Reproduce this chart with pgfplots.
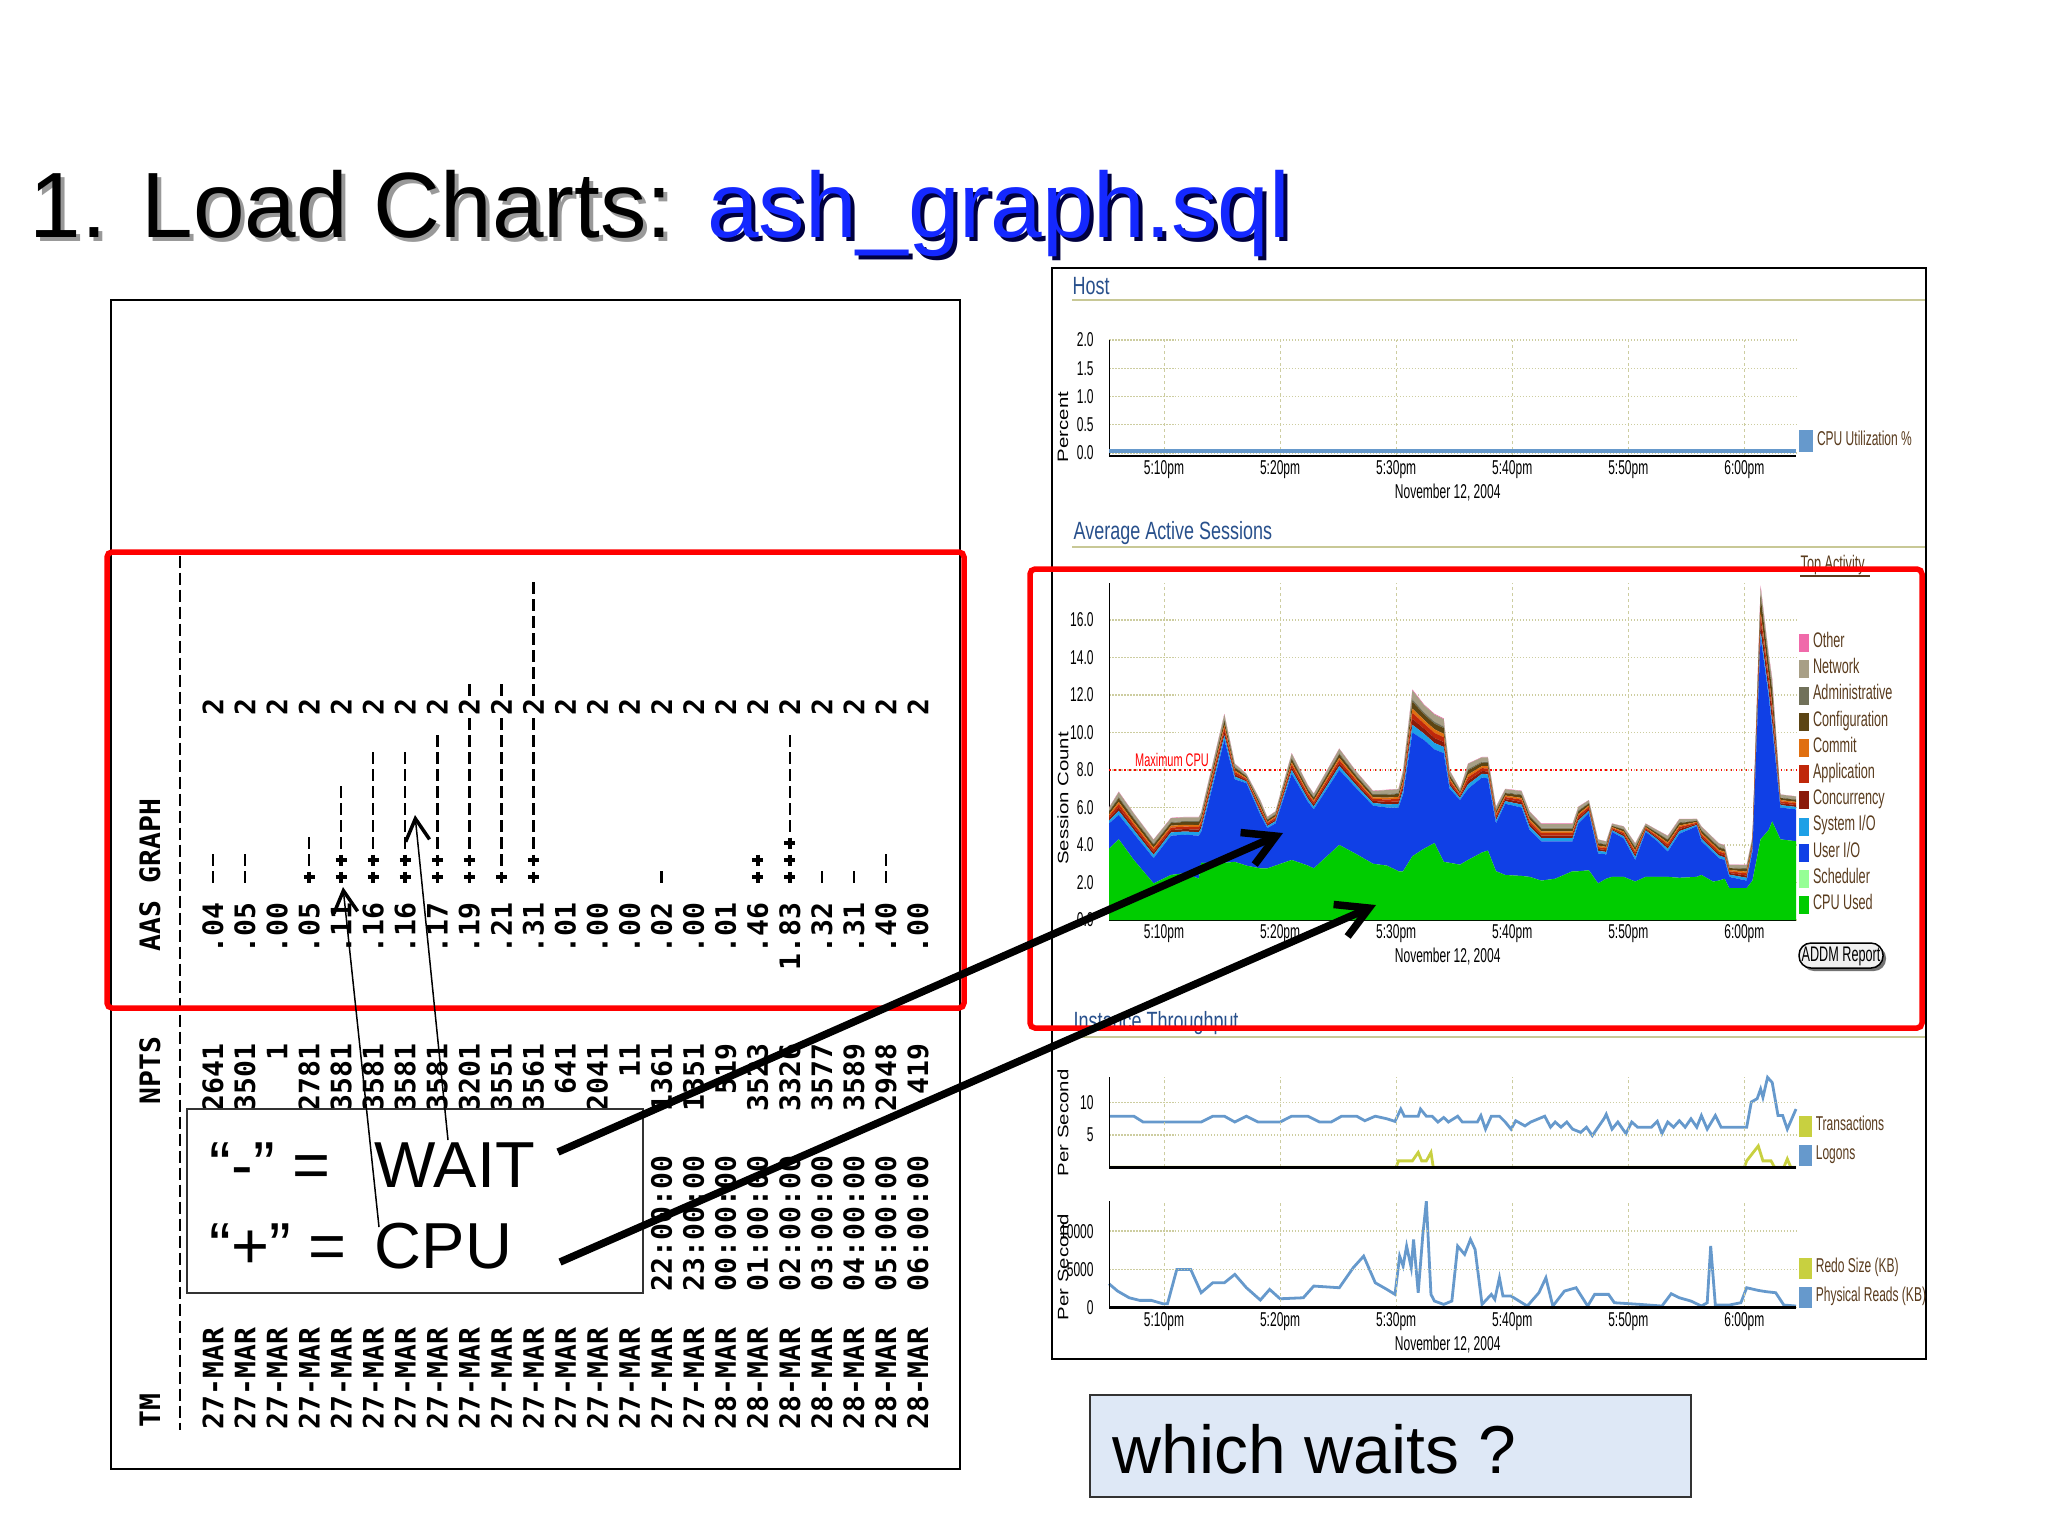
\documentclass[border=0pt]{standalone}
\usepackage{pgfplots}
\pgfplotsset{compat=1.18}
\usepackage{pgfplotstable}
\usepackage{fontspec}
\usetikzlibrary{arrows.meta}
\setmainfont{Liberation Sans}
\newfontfamily\monofont{DejaVu Sans Mono Bold}
\newfontfamily\narrowfont[FakeStretch=0.6]{Liberation Sans}
\newfontfamily\headfont[FakeStretch=0.72]{Liberation Sans}
\newfontfamily\widefont[FakeStretch=1.35]{Liberation Sans}

\definecolor{oemblue}{RGB}{40,80,140}
\definecolor{oembrown}{RGB}{90,60,30}
\definecolor{gridc}{RGB}{205,205,160}
\definecolor{headline}{RGB}{200,200,150}
\definecolor{cpuused}{RGB}{0,204,0}
\definecolor{sched}{RGB}{150,255,150}
\definecolor{userio}{RGB}{16,64,230}
\definecolor{sysio}{RGB}{30,160,230}
\definecolor{concur}{RGB}{139,26,10}
\definecolor{applic}{RGB}{192,40,10}
\definecolor{commitc}{RGB}{224,111,16}
\definecolor{config}{RGB}{92,69,20}
\definecolor{admin}{RGB}{113,113,90}
\definecolor{network}{RGB}{168,159,134}
\definecolor{other}{RGB}{240,106,170}
\definecolor{logons}{RGB}{102,153,204}
\definecolor{trans}{RGB}{200,208,64}
\definecolor{titleblue}{RGB}{20,40,255}
\definecolor{boxblue}{RGB}{222,232,246}

% ash_graph.sql output, one row per hour
\pgfplotstableread{
i aas npts tm time
1 .04 2641 27-MAR 08:00:00
2 .05 3501 27-MAR 09:00:00
3 .00 1 27-MAR 10:00:00
4 .05 2781 27-MAR 11:00:00
5 .11 3581 27-MAR 12:00:00
6 .16 3581 27-MAR 13:00:00
7 .16 3581 27-MAR 14:00:00
8 .17 3581 27-MAR 15:00:00
9 .19 3201 27-MAR 16:00:00
10 .21 3551 27-MAR 17:00:00
11 .31 3561 27-MAR 18:00:00
12 .01 641 27-MAR 19:00:00
13 .00 2041 27-MAR 20:00:00
14 .00 11 27-MAR 21:00:00
15 .02 1361 27-MAR 22:00:00
16 .00 1351 27-MAR 23:00:00
17 .01 519 28-MAR 00:00:00
18 .46 3523 28-MAR 01:00:00
19 1.83 3326 28-MAR 02:00:00
20 .32 3577 28-MAR 03:00:00
21 .31 3589 28-MAR 04:00:00
22 .40 2948 28-MAR 05:00:00
23 .00 419 28-MAR 06:00:00
}\ashtab

% "+" characters (CPU): column, character position
\pgfplotstableread{
i k
4 1
5 1
5 2
6 1
6 2
7 1
7 2
8 1
8 2
9 1
9 2
10 1
11 1
11 2
18 1
18 2
19 1
19 2
19 3
}\plustab

% "-" characters (WAIT)
\pgfplotstableread{
i k
1 1
1 2
2 1
2 2
4 2
4 3
5 3
5 4
5 5
5 6
6 3
6 4
6 5
6 6
6 7
6 8
7 3
7 4
7 5
7 6
7 7
7 8
8 3
8 4
8 5
8 6
8 7
8 8
8 9
9 3
9 4
9 5
9 6
9 7
9 8
9 9
9 10
9 12
10 2
10 3
10 4
10 5
10 6
10 7
10 8
10 9
10 10
10 12
11 3
11 4
11 5
11 6
11 7
11 8
11 9
11 10
11 12
11 13
11 14
11 15
11 16
11 17
11 18
15 1
19 4
19 5
19 6
19 7
19 8
19 9
20 1
21 1
22 1
22 2
}\dashtab

% average active sessions, minutes after 5:00pm
\pgfplotstableread{
t cpu sch uio sio con app com cfg adm net oth
5.26 3.80 0 1.35 .15 .12 .12 .09 .14 .04 .17 .02
6.1 4.30 0 1.30 .22 .18 .18 .12 .20 .06 .26 .03
7.4 3.20 0 1.40 .20 .15 .15 .11 .18 .06 .23 .02
9.1 1.95 0 1.35 .18 .14 .14 .10 .16 .05 .21 .02
10.6 2.40 0 2.10 .17 .13 .13 .10 .15 .05 .20 .02
11.8 2.50 0 2.05 .17 .13 .13 .10 .15 .05 .20 .02
13.0 2.20 0 2.30 .18 .14 .14 .10 .16 .05 .21 .02
13.2 3.05 0 1.65 .19 .15 .15 .10 .17 .05 .22 .02
15.2 3.05 0 6.55 .25 .20 .20 .14 .22 .07 .29 .03
16.1 3.10 0 4.40 .15 .12 .12 .09 .14 .04 .17 .02
17.1 2.90 0 4.40 .09 .07 .07 .05 .08 .03 .10 .01
18.3 2.75 0 2.85 .14 .11 .11 .08 .13 .04 .17 .02
18.9 2.75 0 2.15 .11 .08 .08 .06 .10 .03 .13 .01
19.6 2.90 0 2.25 .12 .09 .09 .07 .10 .03 .14 .01
21.0 3.20 0 4.60 .20 .15 .15 .11 .18 .06 .23 .02
22.4 2.90 0 3.40 .16 .13 .13 .09 .14 .05 .18 .02
22.9 2.75 0 3.15 .15 .12 .12 .09 .14 .04 .17 .02
25.1 4.00 0 4.00 .21 .16 .16 .12 .18 .06 .24 .02
26.6 3.50 0 3.50 .16 .13 .13 .09 .14 .05 .18 .02
28.0 3.00 0 3.10 .14 .11 .11 .08 .13 .04 .17 .02
29.2 2.90 0 3.10 .17 .13 .13 .10 .15 .05 .20 .02
30.2 2.60 0 3.40 .18 .14 .14 .10 .16 .05 .21 .02
30.6 2.60 0 4.10 .23 .18 .18 .13 .21 .07 .27 .03
31.4 3.40 0 6.60 .41 .32 .32 .23 .37 .12 .48 .05
32.4 3.80 0 5.80 .34 .27 .27 .19 .30 .10 .39 .04
33.3 4.10 0 5.00 .34 .27 .27 .19 .30 .10 .39 .04
34.1 3.10 0 5.80 .33 .26 .26 .18 .30 .09 .39 .04
34.6 3.05 0 3.95 .18 .14 .14 .10 .16 .05 .21 .02
35.5 2.95 0 3.45 .11 .08 .08 .06 .10 .03 .13 .01
36.2 3.20 0 3.80 .24 .19 .19 .14 .22 .07 .28 .02
37.4 3.60 0 4.00 .20 .15 .15 .11 .18 .06 .23 .02
37.9 3.70 0 3.85 .21 .16 .16 .12 .18 .06 .24 .02
38.6 2.60 0 2.55 .16 .13 .13 .09 .14 .05 .18 .02
39.4 2.40 0 3.80 .14 .11 .11 .08 .13 .04 .17 .02
40.8 2.35 0 3.65 .16 .13 .13 .09 .14 .05 .18 .02
41.5 2.30 0 2.50 .18 .14 .14 .10 .16 .05 .21 .02
42.5 2.10 0 2.10 .17 .13 .13 .10 .15 .05 .20 .02
43.7 2.20 0 2.00 .17 .13 .13 .10 .15 .05 .20 .02
45.2 2.60 0 1.60 .17 .13 .13 .10 .15 .05 .20 .02
45.7 2.60 0 2.55 .16 .13 .13 .09 .14 .05 .18 .02
46.6 2.65 0 3.05 .13 .10 .10 .07 .11 .03 .15 .01
47.4 1.95 0 1.60 .14 .10 .10 .08 .12 .04 .16 .01
48.1 2.20 0 1.30 .13 .10 .10 .07 .11 .03 .15 .01
48.6 2.30 0 2.40 .08 .06 .06 .05 .07 .02 .10 .01
49.6 2.30 0 2.05 .12 .09 .09 .07 .10 .03 .14 .01
50.6 2.05 0 1.15 .16 .13 .13 .09 .14 .05 .18 .02
51.5 2.30 0 2.40 .08 .06 .06 .05 .07 .02 .10 .01
52.5 2.30 0 1.90 .11 .08 .08 .06 .10 .03 .13 .01
53.4 2.30 0 1.35 .15 .12 .12 .09 .14 .04 .17 .02
54.4 2.25 0 2.35 .14 .11 .11 .08 .13 .04 .17 .02
55.9 2.30 0 2.70 .07 .06 .06 .04 .06 .02 .08 .01
56.3 2.40 0 1.80 .14 .11 .11 .08 .13 .04 .17 .02
57.3 2.05 0 1.55 .14 .11 .11 .08 .13 .04 .17 .02
57.8 2.10 0 1.20 .14 .11 .11 .08 .13 .04 .17 .02
58.3 2.20 0 1.00 .14 .11 .11 .08 .13 .04 .17 .02
58.7 1.70 0 0.60 .12 .09 .09 .07 .10 .03 .14 .01
60.2 1.70 0 0.40 .15 .12 .12 .09 .14 .04 .17 .02
60.7 2.10 0 1.55 .14 .11 .11 .08 .13 .04 .17 .02
61.4 4.30 0 10.80 .30 .55 .35 .15 .80 .10 .40 .10
62.1 4.80 0 7.10 .25 .45 .30 .12 .65 .10 .38 .05
62.4 5.25 0 4.95 .30 .50 .35 .15 .75 .10 .45 .10
63.1 4.30 0 1.70 .13 .10 .10 .07 .11 .03 .15 .01
64.45 4.20 0 1.70 .13 .10 .10 .07 .11 .03 .15 .01
}\aasdata

\pgfplotsset{
  oem/.style={
    scale only axis, width=68.7mm, xmin=5.26, xmax=64.45,
    anchor=south west, clip=false,
    axis x line*=bottom, axis y line*=left,
    x axis line style={line width=0.25mm},
    y axis line style={line width=0.1mm},
    xtick={10,20,30,40,50,60},
    xticklabels={5:10pm,5:20pm,5:30pm,5:40pm,5:50pm,6:00pm},
    major tick length=0pt,
    grid=major,
    major x grid style={gridc, dash pattern=on 0.3mm off 0.3mm, line width=0.1mm},
    major y grid style={gridc, dash pattern=on 0.15mm off 0.15mm, line width=0.15mm},
    tick label style={font=\narrowfont\fontsize{5.7}{6}\selectfont, text=black},
    xticklabel style={anchor=center, yshift=-1.4mm},
    yticklabel style={anchor=east, xshift=-0.3mm},
    xlabel style={at={(axis description cs:0.493,0)}, anchor=center, yshift=-3.7mm, font=\narrowfont\fontsize{5.7}{6}\selectfont},
    ylabel style={font=\widefont\fontsize{4.3}{5}\selectfont},
    legend cell align=left,
    legend image code/.code={\fill[##1] (0mm,-0.9mm) rectangle (1mm,0.9mm);},
    legend style={draw=none, fill=none, inner sep=0pt, outer sep=0pt, anchor=north west,
      column sep=0.4mm, row sep=0.82mm,
      nodes={inner sep=0pt, text height=1.2mm, text depth=0.35mm, text=oembrown,
        font=\narrowfont\fontsize{5.7}{6}\selectfont}},
  },
}

\begin{document}
\begin{tikzpicture}
\begin{scope}[x=0.1mm,y=-0.1mm]
\path[use as bounding box, fill=white] (0,0) rectangle (2048,1536);
% title with shadow
\node[anchor=base west, inner sep=0pt] at (33,241) {\fontsize{26.4}{30}\selectfont\textcolor{black!40}{1. Load Charts: }\textcolor{black!75!blue}{ash\_graph.sql}};
\node[anchor=base west, inner sep=0pt] at (29,237) {\fontsize{26.4}{30}\selectfont 1. Load Charts: \textcolor{titleblue}{ash\_graph.sql}};
% panels
\draw[line width=0.2mm] (111,300) rectangle (960,1469);
\draw[line width=0.2mm] (1052,268) rectangle (1926,1359);
\node[anchor=west, inner sep=0pt, text=oemblue, font=\headfont\fontsize{7.1}{8}\selectfont] at (1072,286) {Host};
\draw[headline, line width=0.15mm] (1072,300) -- (1925,300);
\node[anchor=west, inner sep=0pt, text=oemblue, font=\headfont\fontsize{7.1}{8}\selectfont] at (1073,533) {Average Active Sessions};
\draw[headline, line width=0.15mm] (1072,547) -- (1925,547);
\node[anchor=west, inner sep=0pt, text=oemblue, font=\headfont\fontsize{7.1}{8}\selectfont] at (1073,1023) {Instance Throughput};
\draw[headline, line width=0.15mm] (1072,1037) -- (1925,1037);
\node[anchor=base west, inner sep=0pt, text=oembrown, font=\narrowfont\fontsize{6}{7}\selectfont] at (1800,570) {Top Activity};
\draw[oembrown, line width=0.15mm] (1800,576) -- (1870,576);
\end{scope}

% left panel: ash_graph.sql listing, printed sideways
\begin{axis}[
  at={(11.1mm,-146.9mm)}, anchor=south west,
  scale only axis, width=84.9mm, height=116.9mm,
  xmin=-2.18, xmax=24.31, ymin=-33.82, ymax=34.94,
  hide axis, clip=false,
  every node near coord/.append style={font=\monofont\fontsize{8}{9}\selectfont, inner sep=0pt, rotate=90, text=black},
]
\addplot[line width=0.2mm, dash pattern=on 1.2mm off 0.5mm] coordinates {(-0.03,19.9) (-0.03,-31.5)};
\addplot[only marks, mark=+, mark size=0.55mm, line width=0.35mm] table[x=i,y=k] {\plustab};
\addplot[only marks, mark=|, mark size=0.6mm, line width=0.25mm] table[x=i,y=k] {\dashtab};
\addplot[draw=none, mark=none, nodes near coords={2}, every node near coord/.append style={anchor=center}] table[x=i, y expr=11] {\ashtab};
\addplot[draw=none, mark=none, point meta=explicit symbolic, nodes near coords, every node near coord/.append style={anchor=east}] table[x=i, y expr=-0.47, meta=aas] {\ashtab};
\addplot[draw=none, mark=none, point meta=explicit symbolic, nodes near coords, every node near coord/.append style={anchor=east}] table[x=i, y expr=-8.76, meta=npts] {\ashtab};
\addplot[draw=none, mark=none, point meta=explicit symbolic, nodes near coords, every node near coord/.append style={anchor=west}] table[x=i, y expr=-23.41, meta=time] {\ashtab};
\addplot[draw=none, mark=none, point meta=explicit symbolic, nodes near coords, every node near coord/.append style={anchor=west}] table[x=i, y expr=-31.53, meta=tm] {\ashtab};
\node[rotate=90, anchor=west, inner sep=0pt, font=\monofont\fontsize{8}{9}\selectfont] at (axis cs:-0.966,-3.41) {AAS GRAPH};
\node[rotate=90, anchor=west, inner sep=0pt, font=\monofont\fontsize{8}{9}\selectfont] at (axis cs:-0.966,-12.41) {NPTS};
\node[rotate=90, anchor=west, inner sep=0pt, font=\monofont\fontsize{8}{9}\selectfont] at (axis cs:-0.966,-31.4) {TM};
\end{axis}

% Host
\begin{axis}[oem, at={(110.9mm,-45.58mm)}, height=11.58mm, ymin=-0.05, ymax=2,
  ytick={0,0.5,1,1.5,2}, yticklabels={0.0,0.5,1.0,1.5,2.0},
  xlabel={November 12, 2004}, ylabel={Percent},
  ylabel style={at={(axis description cs:-0.067,0.25)}, anchor=center},
  legend style={at={(axis description cs:1.0044,0.128)}, anchor=west},
]
\addplot[logons, line width=0.4mm] coordinates {(5.26,0.03) (20,0.03) (40,0.03) (64.45,0.03)};
\addlegendentry{CPU Utilization \%}
\end{axis}

% Average Active Sessions
\begin{axis}[oem, at={(110.9mm,-92mm)}, height=33.75mm, ymin=0, ymax=18,
  ytick={0,2,...,16}, yticklabels={0.0,2.0,4.0,6.0,8.0,10.0,12.0,14.0,16.0},
  stack plots=y, reverse legend,
  xlabel={November 12, 2004}, ylabel={Session Count},
  ylabel style={at={(axis description cs:-0.067,0.36)}, anchor=center},
  legend style={at={(axis description cs:1.0044,0.847)}, anchor=north west,
    nodes={font=\narrowfont\fontsize{6}{7}\selectfont}},
]
\addplot[fill=cpuused, draw=none, mark=none] table[x=t,y=cpu] {\aasdata} \closedcycle;
\addlegendentry{CPU Used}
\addplot[fill=sched, draw=none, mark=none] table[x=t,y=sch] {\aasdata} \closedcycle;
\addlegendentry{Scheduler}
\addplot[fill=userio, draw=none, mark=none] table[x=t,y=uio] {\aasdata} \closedcycle;
\addlegendentry{User I/O}
\addplot[fill=sysio, draw=none, mark=none] table[x=t,y=sio] {\aasdata} \closedcycle;
\addlegendentry{System I/O}
\addplot[fill=concur, draw=none, mark=none] table[x=t,y=con] {\aasdata} \closedcycle;
\addlegendentry{Concurrency}
\addplot[fill=applic, draw=none, mark=none] table[x=t,y=app] {\aasdata} \closedcycle;
\addlegendentry{Application}
\addplot[fill=commitc, draw=none, mark=none] table[x=t,y=com] {\aasdata} \closedcycle;
\addlegendentry{Commit}
\addplot[fill=config, draw=none, mark=none] table[x=t,y=cfg] {\aasdata} \closedcycle;
\addlegendentry{Configuration}
\addplot[fill=admin, draw=none, mark=none] table[x=t,y=adm] {\aasdata} \closedcycle;
\addlegendentry{Administrative}
\addplot[fill=network, draw=none, mark=none] table[x=t,y=net] {\aasdata} \closedcycle;
\addlegendentry{Network}
\addplot[fill=other, draw=none, mark=none] table[x=t,y=oth] {\aasdata} \closedcycle;
\addlegendentry{Other}
\draw[red, densely dotted, line width=0.15mm] (axis cs:5.26,8) -- (axis cs:64.45,8);
\node[anchor=base west, inner sep=0pt, text=red, font=\narrowfont\fontsize{5.2}{6}\selectfont] at (axis cs:7.45,8.2) {Maximum CPU};
\end{axis}

% Instance Throughput: transactions / logons
\begin{axis}[oem, axis on top, at={(110.9mm,-116.73mm)}, height=9.06mm, ymin=0, ymax=14,
  ytick={5,10}, yticklabels={5,10},
  xticklabels={,,,,,}, xticklabel style={text opacity=0},
  ylabel={Per Second},
  ylabel style={at={(axis description cs:-0.067,0.49)}, anchor=center},
  legend style={at={(axis description cs:1.0044,0.566)}, anchor=north west},
]
\addplot[trans, line width=0.28mm] coordinates {(5.26,0) (30.0,0) (30.2,1.0) (31.4,1.0) (31.9,2.3) (32.2,1.0) (32.6,1.0) (33.0,2.3) (33.2,0) (60.0,0) (60.2,1.0) (61.2,3.3) (61.6,1.0) (62.3,1.0) (62.6,0) (63.4,0) (63.7,1.3) (64.0,0) (64.45,0)};
\addlegendentry{Transactions}
\addplot[logons, line width=0.28mm] coordinates {(5.26,7.9) (7.4,7.9) (8.2,7.0) (13.2,7.0) (14.2,7.9) (15.2,7.9) (16.1,7.0) (17.1,7.9) (18.1,7.0) (20.0,7.0) (21.0,7.9) (22.4,7.9) (23.4,7.0) (24.4,7.0) (25.3,7.9) (26.6,7.9) (27.3,7.2) (28.2,7.9) (29.2,7.5) (29.9,7.1) (30.4,9.0) (30.7,7.9) (31.9,7.9) (32.1,9.0) (32.6,7.9) (33.1,7.9) (33.6,7.0) (34.1,7.7) (34.5,7.0) (35.3,7.9) (35.7,7.0) (37.0,7.0) (37.3,8.0) (37.7,5.9) (38.2,7.9) (38.9,7.9) (39.4,7.0) (39.9,5.9) (40.3,7.2) (41.1,6.4) (41.6,7.0) (42.8,7.9) (43.3,6.2) (43.7,7.0) (44.2,6.2) (44.7,7.0) (45.2,5.9) (45.9,5.4) (46.4,6.2) (46.9,4.9) (47.4,6.2) (47.9,7.5) (48.1,8.2) (48.6,5.9) (49.1,7.0) (49.8,5.2) (50.3,7.0) (50.8,6.2) (52.0,6.2) (52.5,7.1) (52.9,5.2) (53.4,7.0) (53.9,6.2) (54.4,7.2) (54.9,6.2) (55.4,7.5) (55.9,6.2) (56.3,8.0) (56.8,5.9) (57.5,8.0) (58.0,6.2) (60.2,6.2) (60.6,10.1) (61.1,10.6) (61.4,12.1) (61.6,10.8) (62.0,13.9) (62.4,13.1) (62.9,8.0) (63.3,8.0) (63.7,5.9) (64.45,9.0)};
\addlegendentry{Logons}
\end{axis}

% Instance Throughput: redo / physical reads
\begin{axis}[oem, axis on top, at={(110.9mm,-130.77mm)}, height=10.72mm, ymin=0, ymax=14000,
  scaled y ticks=false, ytick={0,5000,10000}, yticklabels={0,5000,10000},
  xlabel={November 12, 2004}, ylabel={Per Second},
  ylabel style={at={(axis description cs:-0.067,0.38)}, anchor=center},
  legend style={at={(axis description cs:1.0044,0.464)}, anchor=north west},
]
\addplot[trans, line width=0.28mm] coordinates {(5.26,0) (30,0) (64.45,0)};
\addlegendentry{Redo Size (KB)}
\addplot[logons, line width=0.28mm] coordinates {(5.26,3130) (6.0,2175) (7.0,1300) (7.9,960) (8.9,960) (9.9,520) (10.3,520) (11.1,5000) (12.3,5000) (13.2,1960) (14.2,3260) (15.2,3260) (16.1,4350) (17.1,2610) (18.3,1000) (19.1,2390) (20.0,1170) (22.0,1300) (22.9,2830) (25.1,2610) (26.3,5220) (27.2,6740) (28.2,3260) (29.2,2390) (29.9,1740) (30.3,6740) (30.6,5440) (30.9,8050) (31.3,5220) (31.5,8920) (31.9,1960) (32.3,9570) (32.6,13900) (33.0,1740) (33.3,870) (34.1,435) (34.8,870) (35.3,8050) (35.9,6960) (36.4,8920) (36.8,7610) (37.4,435) (38.2,1740) (38.5,1090) (38.9,3910) (39.2,1520) (39.9,1520) (41.3,220) (42.3,1960) (42.9,3910) (43.5,220) (44.5,2175) (45.5,2610) (46.5,220) (47.1,1740) (48.3,1740) (48.8,650) (51.0,435) (52.9,220) (53.7,1830) (54.4,1300) (55.4,870) (56.3,220) (56.8,650) (57.1,8050) (57.5,350) (58.7,350) (59.7,650) (60.2,2610) (61.2,2260) (61.9,2090) (62.7,1960) (63.4,350) (64.45,220)};
\addlegendentry{Physical Reads (KB)}
\end{axis}

\begin{scope}[x=0.1mm,y=-0.1mm]
% ADDM button
\fill[black!55, rounded corners=1.2mm] (1802,946) rectangle (1886,971);
\draw[fill=black!6, line width=0.15mm, rounded corners=1.2mm] (1799,943) rectangle (1883,968);
\node[inner sep=0pt, font=\narrowfont\fontsize{6}{7}\selectfont] at (1841,956) {ADDM Report};
% highlight boxes
\draw[red, line width=0.55mm, rounded corners=0.5mm] (107,552) rectangle (964,1008);
\draw[red, line width=0.55mm, rounded corners=0.5mm] (1030,569) rectangle (1922,1028);
% legend box
\draw[fill=white, draw=black!80, line width=0.2mm] (187,1109) rectangle (643,1293);
\node[anchor=base west, inner sep=0pt, font=\fontsize{18.5}{20}\selectfont] at (209,1187) {“-” =};
\node[anchor=base west, inner sep=0pt, font=\fontsize{18.5}{20}\selectfont] at (374,1187) {WAIT};
\node[anchor=base west, inner sep=0pt, font=\fontsize{18.5}{20}\selectfont] at (209,1268) {“+” =};
\node[anchor=base west, inner sep=0pt, font=\fontsize{18.5}{20}\selectfont] at (374,1268) {CPU};
% question box
\draw[fill=boxblue, draw=black!80, line width=0.25mm] (1090,1395) rectangle (1691,1497);
\node[anchor=base west, inner sep=0pt, font=\fontsize{19.3}{21}\selectfont] at (1112,1473) {which waits ?};
% arrows
\draw[line width=0.15mm, -{Straight Barb[length=2.2mm,width=2.4mm,line width=0.35mm]}] (448,1140) -- (415,815);
\draw[line width=0.15mm, -{Straight Barb[length=2.2mm,width=2.4mm,line width=0.35mm]}] (379,1227) -- (343,887);
\draw[line width=0.75mm, -{Straight Barb[length=3.1mm,width=3.5mm]}] (558,1152) -- (1283,833);
\draw[line width=0.75mm, -{Straight Barb[length=3.1mm,width=3.5mm]}] (560,1262) -- (1376,905);
\end{scope}
\end{tikzpicture}
\end{document}
